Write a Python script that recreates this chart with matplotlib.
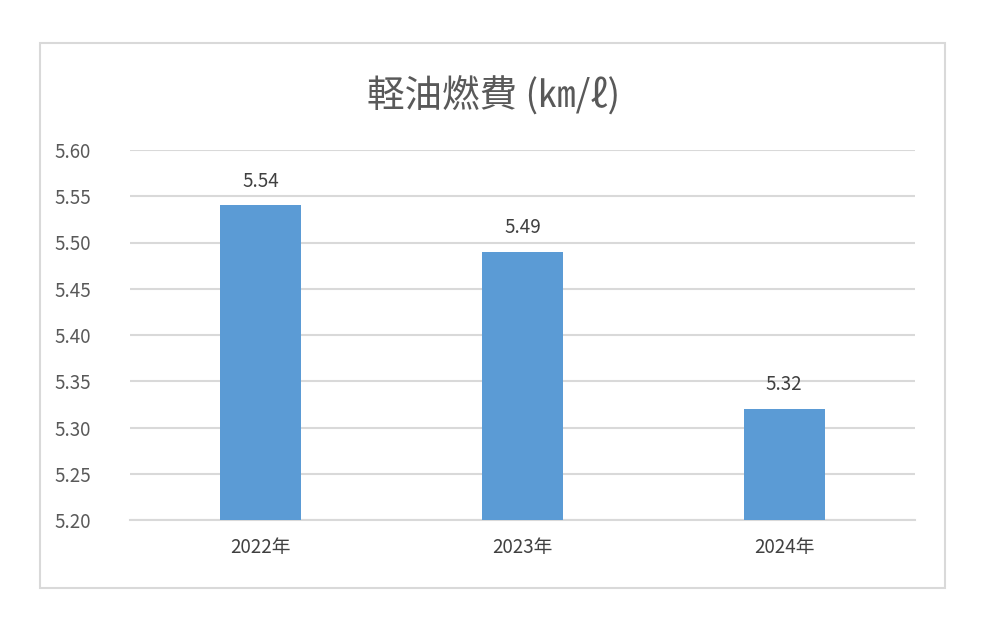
import matplotlib.pyplot as plt
from matplotlib.patches import Rectangle

plt.rcParams['font.family'] = ['Noto Sans CJK JP', 'DejaVu Sans']

years = ['2022年', '2023年', '2024年']
mileage = [5.54, 5.49, 5.32]
yticks = [5.20, 5.25, 5.30, 5.35, 5.40, 5.45, 5.50, 5.55, 5.60]

fig = plt.figure(figsize=(9.88, 6.25), dpi=100)
fig.patches.append(Rectangle((40 / 988, 1 - 588 / 625), 905 / 988, 545 / 625,
                             transform=fig.transFigure, fill=False,
                             edgecolor='#D9D9D9', linewidth=1.5))

ax = fig.add_axes([130 / 988, 1 - 520 / 625, 785 / 988, 370 / 625])
x = range(len(years))
ax.bar(x, [v - 5.20 for v in mileage], bottom=5.20, width=0.31,
       color='#5B9BD5', zorder=3)
for i, v in zip(x, mileage):
    ax.text(i, v + 0.015, f'{v:.2f}', ha='center', va='bottom',
            fontsize=13.5, color='#404040')

ax.set_xlim(-0.5, 2.5)
ax.set_ylim(5.20, 5.60)
ax.set_yticks(yticks)
ax.set_yticklabels([f'{t:.2f}' for t in yticks], fontsize=13.5, color='#595959')
ax.set_xticks(list(x))
ax.set_xticklabels(years, fontsize=13.5, color='#404040')
ax.tick_params(length=0, pad=12)
ax.tick_params(axis='y', pad=28)
ax.grid(axis='y', color='#D9D9D9', linewidth=1.5, zorder=0)
for s in ['top', 'right', 'left']:
    ax.spines[s].set_visible(False)
ax.spines['bottom'].set_color('#D9D9D9')
ax.spines['bottom'].set_linewidth(1.5)

fig.text(0.5, 1 - 97 / 625, '軽油燃費 (㎞/ℓ)', ha='center', va='center',
         fontsize=27, color='#595959')

fig.savefig('out.png', dpi=100)
